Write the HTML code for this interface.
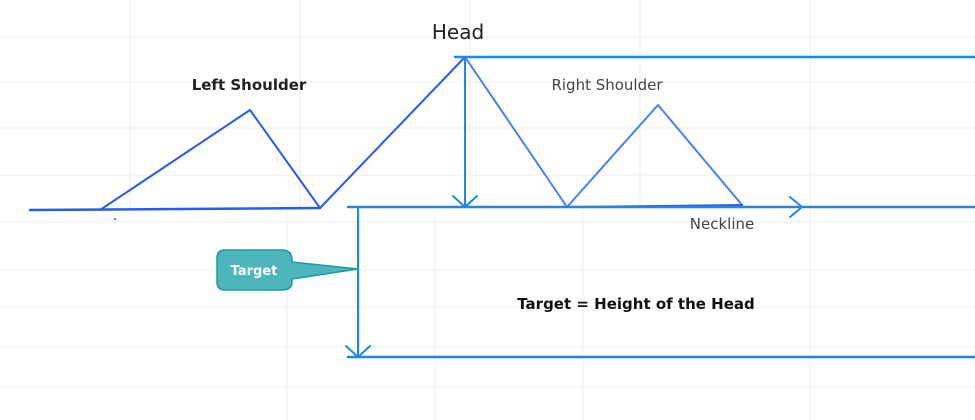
<!DOCTYPE html>
<html><head><style>
body{margin:0;background:#fff;}
svg{display:block;font-family:"DejaVu Sans","Liberation Sans",sans-serif;}
</style></head><body>
<svg width="975" height="420" viewBox="0 0 975 420">
<g stroke="#ececec" stroke-width="1">
<line x1="0" y1="37" x2="975" y2="37"/><line x1="0" y1="82" x2="975" y2="82"/>
<line x1="0" y1="128" x2="975" y2="128"/><line x1="0" y1="175" x2="975" y2="175"/>
<line x1="0" y1="222" x2="975" y2="222"/><line x1="0" y1="270" x2="975" y2="270"/>
<line x1="0" y1="307" x2="975" y2="307"/><line x1="0" y1="347" x2="975" y2="347"/>
<line x1="0" y1="387" x2="975" y2="387"/>
<line x1="130" y1="0" x2="130" y2="208"/><line x1="300" y1="0" x2="300" y2="208"/>
<line x1="470" y1="0" x2="470" y2="208"/><line x1="640" y1="0" x2="640" y2="208"/><line x1="810" y1="0" x2="810" y2="208"/>
<line x1="287" y1="208" x2="287" y2="420"/><line x1="435" y1="208" x2="435" y2="420"/>
<line x1="583" y1="208" x2="583" y2="420"/><line x1="810" y1="208" x2="810" y2="420"/>
</g>
<g fill="none" stroke-linecap="round" stroke-linejoin="round">
<polyline points="30,210 320,208" stroke="#2a5bef" stroke-width="2.5"/>
<polyline points="100,210 250,110 320,208 465,57" stroke="#2a5bef" stroke-width="2"/>
<polyline points="465,57 567,207 658,105 742,205" stroke="#4a7ff5" stroke-width="2"/>
<line x1="567" y1="207" x2="742" y2="205" stroke="#2a5bef" stroke-width="2"/>
<line x1="348" y1="207" x2="975" y2="207" stroke="#1e88e5" stroke-width="2.5"/>
<polyline points="790,197 802,207 790,217" stroke="#1e88e5" stroke-width="2"/>
<line x1="455" y1="57" x2="975" y2="57" stroke="#1e88e5" stroke-width="2.5"/>
<line x1="465" y1="57" x2="465" y2="206" stroke="#1e88e5" stroke-width="2"/>
<polyline points="453,196 465,207 477,196" stroke="#1e88e5" stroke-width="2"/>
<line x1="358" y1="207" x2="358" y2="356" stroke="#1e88e5" stroke-width="2"/>
<polyline points="346,346 358,357 370,346" stroke="#1e88e5" stroke-width="2"/>
<line x1="348" y1="357" x2="975" y2="357" stroke="#1e88e5" stroke-width="2.5"/>
</g>
<circle cx="115" cy="219" r="1" fill="#2a5bef"/>
<path d="M225,250 H282 Q292,250 292,260 V262 L358,269 L292,279 V282 Q292,290 282,290 H225 Q217,290 217,282 V258 Q217,250 225,250 Z" fill="#4db6bc" stroke="#1c9ba0" stroke-width="1.5"/>
<text x="254" y="275" font-size="13" fill="#fff" font-weight="bold" text-anchor="middle">Target</text>
<text x="458" y="39" font-size="20" fill="#222" text-anchor="middle">Head</text>
<text x="249" y="90" font-size="15" fill="#222" font-weight="bold" text-anchor="middle">Left Shoulder</text>
<text x="607" y="90" font-size="15" fill="#444" text-anchor="middle">Right Shoulder</text>
<text x="722" y="229" font-size="15" fill="#444" text-anchor="middle">Neckline</text>
<text x="636" y="309" font-size="15" fill="#111" font-weight="bold" text-anchor="middle">Target = Height of the Head</text>
</svg>
</body></html>
